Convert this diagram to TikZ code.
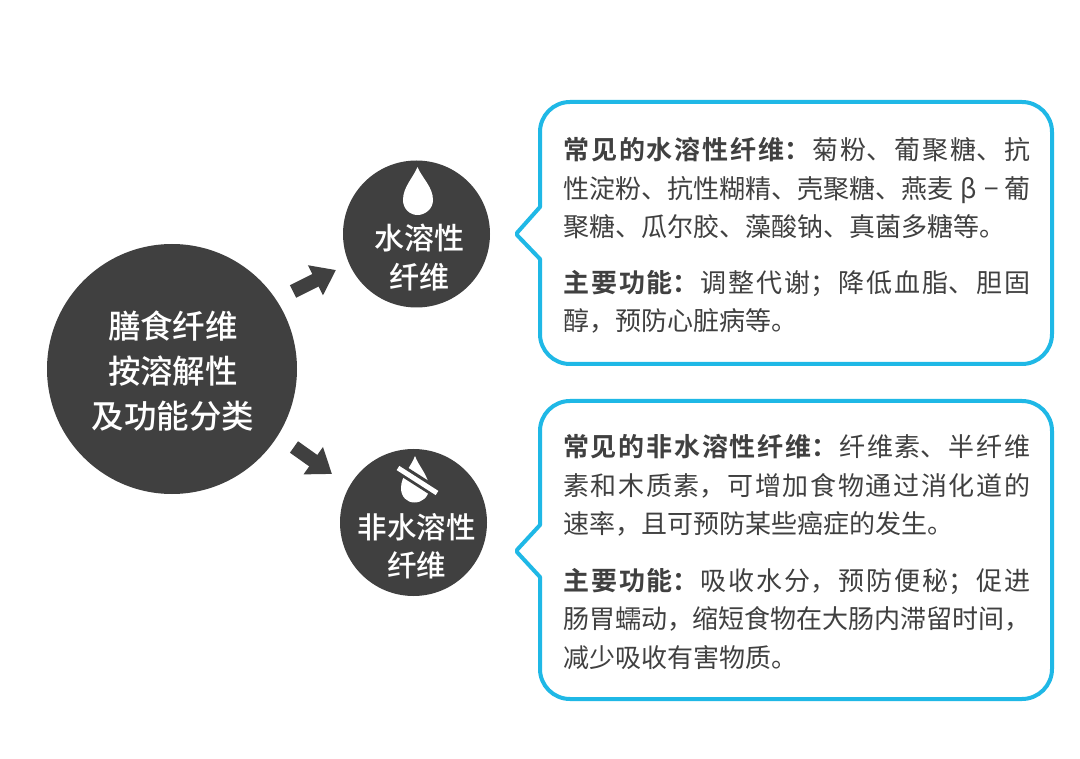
\documentclass[tikz,border=0pt]{standalone}
\usepackage{fontspec}
\usetikzlibrary{arrows.meta}
\setmainfont{Noto Sans CJK SC}[BoldFont={Noto Sans CJK SC Bold}]
\newfontfamily\medfont{Noto Sans CJK SC Medium}
\XeTeXlinebreaklocale "zh"
\XeTeXlinebreakskip=0pt plus 4pt minus 0.2pt
\definecolor{dk}{HTML}{404040}
\definecolor{cy}{HTML}{1FB8E6}
\newcommand\fullln[1]{{\parfillskip=0pt\leavevmode #1\par}}
\newcommand\hd[1]{\textbf{#1}\hskip 0pt plus 4pt\relax}
\tikzset{
  x=1pt,y=-1pt,
  disc/.style={circle,fill=dk,inner sep=0pt},
  label/.style={text=white,align=center,inner sep=0pt},
  para/.style={text=dk,anchor=north west,inner sep=0pt,text width=467pt,align=justify,font=\fontsize{26}{38.5}\selectfont},
  bubble/.style={draw=cy,line width=4pt,fill=white,line join=round},
  fat/.style={draw=dk,line width=14pt,-{Triangle[length=23pt,width=32pt]}},
  drop/.style={fill=white,draw=none}
}
\begin{document}
\begin{tikzpicture}
\useasboundingbox (0,0) rectangle (1080,759);
\fill[white] (0,0) rectangle (1080,759);
% discs
\node[disc,minimum size=250pt] (big) at (172,369) {};
\node[disc,minimum size=147pt] (top) at (416.5,234) {};
\node[disc,minimum size=147pt] (low) at (413.5,522.5) {};
\node[label,font=\medfont\fontsize{32.5}{45}\selectfont] (bigt) at (173,371) {膳食纤维\\按溶解性\\及功能分类};
\node[label,font=\medfont\fontsize{30}{38.5}\selectfont] (topt) at (419.5,257.5) {水溶性\\纤维};
\node[label,font=\medfont\fontsize{29.5}{38.5}\selectfont] (lowt) at (416.5,546) {非水溶性\\纤维};
% arrows
\coordinate (a1s) at (293,291.5);
\coordinate (a1e) at (336,270);
\coordinate (a2s) at (294,447);
\coordinate (a2e) at (332,474);
\draw[fat] (a1s) -- (a1e);
\draw[fat] (a2s) -- (a2e);
% drop
\path[drop] (417.5,167) .. controls (413,178) and (403,187) .. (403,200) .. controls (403,209) and (410,215) .. (417.5,215) .. controls (425,215) and (433,209) .. (433,200) .. controls (433,187) and (422,178) .. (417.5,167) -- cycle;
% crossed drop
\path[drop] (415,456) .. controls (411,467) and (401,476) .. (401,488) .. controls (401,497) and (407,502.5) .. (414.5,502.5) .. controls (422,502.5) and (429,497) .. (429,488) .. controls (429,476) and (419,467) .. (415,456) -- cycle;
\draw[dk,line width=11pt] (394,465.3) -- (440,494.7);
\draw[white,line width=5pt] (398,468) -- (437,493);
% bubbles
\draw[bubble] (540,207) [rounded corners=30pt] -- (540,102) -- (1052,102) -- (1052,364) -- (540,364) -- (540,300) [sharp corners] -- (540,259) [rounded corners=1.5pt] -- (516,234) [sharp corners] -- cycle;
\draw[bubble] (540,525) [rounded corners=30pt] -- (540,401) -- (1052,401) -- (1052,699) -- (540,699) -- (540,640) [sharp corners] -- (540,577) [rounded corners=1.5pt] -- (516,551) [sharp corners] -- cycle;
% text
\node[para] (p1) at (563,137) {\fullln{\hd{常见的水溶性纤维：}菊粉、葡聚糖、抗}\fullln{性淀粉、抗性糊精、壳聚糖、燕麦\hskip7pt β\hskip8pt −\hfill 葡}聚糖、瓜尔胶、藻酸钠、真菌多糖等。};
\node[para] (p2) at (563,270) {\fullln{\hd{主要功能：}调整代谢；降低血脂、胆固}醇，预防心脏病等。};
\node[para] (p3) at (563,434) {\fullln{\hd{常见的非水溶性纤维：}纤维素、半纤维}\fullln{素和木质素，可增加食物通过消化道的}速率，且可预防某些癌症的发生。};
\node[para] (p4) at (563,568) {\fullln{\hd{主要功能：}吸收水分，预防便秘；促进}\fullln{肠胃蠕动，缩短食物在大肠内滞留时间，}减少吸收有害物质。};
\end{tikzpicture}
\end{document}
